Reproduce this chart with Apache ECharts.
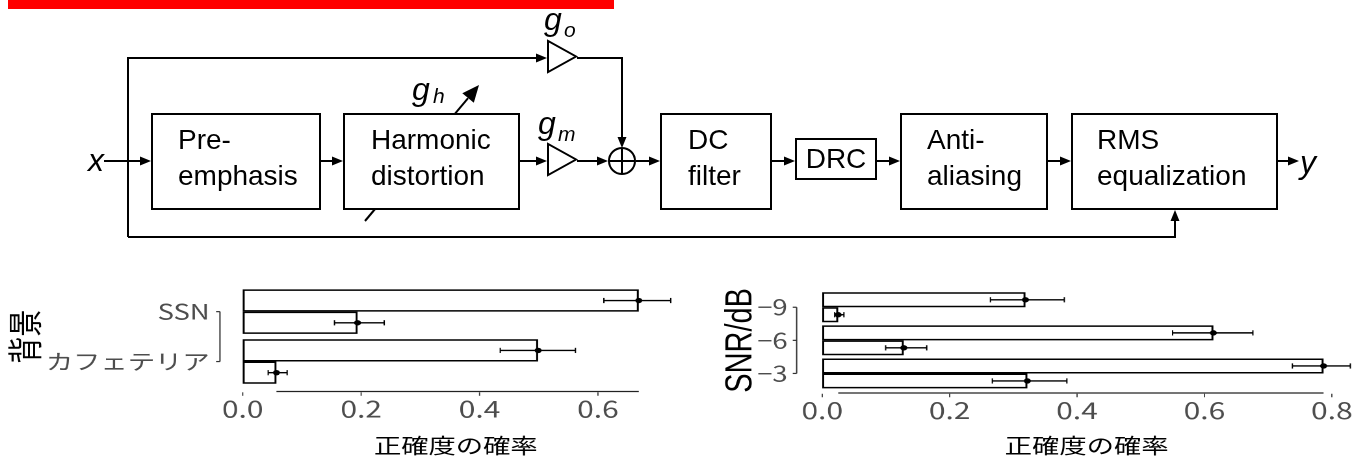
<!DOCTYPE html>
<html>
<head>
<meta charset="utf-8">
<script src="https://cdn.jsdelivr.net/npm/echarts@6/dist/echarts.min.js"></script>
<style>
html, body { margin: 0; padding: 0; background: #fff; }
#diagram { position: absolute; left: 0; top: 0; width: 1357px; height: 250px; }
/* the two lower panels are drawn narrow and stretched sideways, like the source figure */
#plots { position: absolute; left: 0; top: 0; width: 1044px; height: 457px; transform: scaleX(1.3); transform-origin: 0 0; }
</style>
</head>
<body>
<div id="diagram"></div>
<div id="plots"></div>
<script>
// ---- data: background panel ----
var bgCats = ['SSN', 'カフェテリア'];
var bgUpper = [0.669, 0.499];
var bgUpperLo = [0.610, 0.435];
var bgUpperHi = [0.723, 0.562];
var bgLower = [0.194, 0.057];
var bgLowerLo = [0.155, 0.043];
var bgLowerHi = [0.239, 0.075];
var bgTicks = [0, 0.2, 0.4, 0.6];

// ---- data: SNR panel ----
var snrCats = ['−9', '−6', '−3'];
var snrUpper = [0.319, 0.614, 0.787];
var snrUpperLo = [0.264, 0.550, 0.738];
var snrUpperHi = [0.380, 0.676, 0.829];
var snrLower = [0.025, 0.128, 0.322];
var snrLowerLo = [0.0195, 0.0995, 0.267];
var snrLowerHi = [0.034, 0.164, 0.384];
var snrTicks = [0, 0.2, 0.4, 0.6, 0.8];

var xTitle = '正確度の確率';

// ================= block diagram =================
var K = '#000';
var els = [];
function seg(pts) {
    els.push({ type: 'polyline', shape: { points: pts }, style: { stroke: K, lineWidth: 2, fill: null } });
}
function head(a, b, len, hw) {
    var dx = b[0] - a[0], dy = b[1] - a[1], d = Math.hypot(dx, dy);
    var ux = dx / d, uy = dy / d;
    var bx = b[0] - ux * len, by = b[1] - uy * len;
    els.push({ type: 'polygon', shape: { points: [[b[0], b[1]], [bx - uy * hw, by + ux * hw], [bx + uy * hw, by - ux * hw]] }, style: { fill: K } });
    return [bx, by];
}
function arrow(pts, len, hw) {
    var n = pts.length;
    var base = head(pts[n - 2], pts[n - 1], len || 11, hw || 4.5);
    seg(pts.slice(0, n - 1).concat([base]));
}
function box(x, y, w, h) {
    els.push({ type: 'rect', shape: { x: x, y: y, width: w, height: h }, style: { fill: '#fff', stroke: K, lineWidth: 2 } });
}
function txt(s, x, y, extra) {
    var st = { text: s, x: x, y: y, fill: K, fontSize: 28, fontFamily: 'Liberation Sans', align: 'left', verticalAlign: 'middle' };
    for (var k in extra) st[k] = extra[k];
    els.push({ type: 'text', style: st });
}
function amp(x, yc) {
    els.push({ type: 'polygon', shape: { points: [[x, yc - 15.5], [x, yc + 15.5], [x + 28, yc]] }, style: { fill: '#fff', stroke: K, lineWidth: 2 } });
}
var it = { fontStyle: 'italic', fontSize: 32 };
var sub = { fontStyle: 'italic', fontSize: 21 };

// red bar
els.push({ type: 'rect', shape: { x: 8, y: 0, width: 606, height: 9 }, style: { fill: '#ff0000' } });

// bypass paths
arrow([[128, 237], [128, 58], [547, 58]]);
arrow([[128, 237], [1175, 237], [1175, 210]]);
arrow([[577, 58], [622, 58], [622, 148]]);

// g_h control arrow (drawn under the box)
arrow([[365, 221], [479, 85]], 17, 7.5);

// main chain
arrow([[104, 161], [151, 161]]);
box(152, 114, 168, 95);
txt('Pre-', 178, 141); txt('emphasis', 178, 177);
arrow([[320, 161], [343, 161]]);
box(344, 114, 175, 95);
txt('Harmonic', 371, 141); txt('distortion', 371, 177);
arrow([[520, 161], [547, 161]]);
amp(548, 56.5);
amp(548, 159.5);
arrow([[577, 161], [608, 161]]);
els.push({ type: 'circle', shape: { cx: 622, cy: 161, r: 13 }, style: { fill: '#fff', stroke: K, lineWidth: 2 } });
seg([[609, 161], [635, 161]]);
seg([[622, 148], [622, 174]]);
arrow([[636, 161], [660, 161]]);
box(661, 114, 110, 95);
txt('DC', 688, 141); txt('filter', 688, 177);
arrow([[772, 161], [795, 161]]);
box(796, 139, 80, 40);
txt('DRC', 836, 160, { align: 'center' });
arrow([[877, 161], [900, 161]]);
box(901, 114, 146, 95);
txt('Anti-', 927, 141); txt('aliasing', 927, 177);
arrow([[1048, 161], [1071, 161]]);
box(1072, 114, 205, 95);
txt('RMS', 1097, 141); txt('equalization', 1097, 177);
arrow([[1277, 161], [1299, 161]]);

// math labels
txt('x', 104, 162, { fontStyle: 'italic', fontSize: 32, align: 'right' });
txt('y', 1300, 164, it);
txt('g', 544, 21, it); txt('o', 564, 31, sub);
txt('g', 412, 91, it); txt('h', 433, 97.5, sub);
txt('g', 538, 125, it); txt('m', 558, 135, sub);

var diagram = echarts.init(document.getElementById('diagram'));
diagram.setOption({ animation: false, graphic: { elements: els } });

// ================= bar panels =================
var gapL = 0.108, gapR = 0.096;

function errorBars(gapFrac, slot) {
    return function (params, api) {
        var cat = api.value(1);
        var c = api.coord([0, cat]);
        var band = api.size([0, 1])[1];
        var barH = band * (1 - gapFrac) / 2;
        var y = c[1] + (slot === 0 ? -barH / 2 : barH / 2);
        var xv = api.coord([api.value(0), cat])[0];
        var xl = api.coord([api.value(2), cat])[0];
        var xh = api.coord([api.value(3), cat])[0];
        return {
            type: 'group',
            children: [
                { type: 'line', shape: { x1: xl, y1: y, x2: xh, y2: y }, style: { stroke: '#000', lineWidth: 1.4 } },
                { type: 'line', shape: { x1: xl, y1: y - 2.6, x2: xl, y2: y + 2.6 }, style: { stroke: '#000', lineWidth: 1 } },
                { type: 'line', shape: { x1: xh, y1: y - 2.6, x2: xh, y2: y + 2.6 }, style: { stroke: '#000', lineWidth: 1 } },
                { type: 'circle', shape: { cx: xv, cy: y, r: 2.7 }, style: { fill: '#000' } }
            ]
        };
    };
}

// range-frame x line (data min..max), its ticks, and the category bracket with ticks
function frame(xOff, yOff, nCats, ticks) {
    return function (params, api) {
        var cs = params.coordSys;
        var xa = api.coord([api.value(0), 0])[0];
        var xb = api.coord([api.value(2), 0])[0];
        var yl = cs.y + cs.height + xOff;
        var yt = api.coord([0, 0])[1];
        var yb = api.coord([0, nCats - 1])[1];
        var xr = cs.x - yOff;
        var kids = [
            { type: 'line', shape: { x1: xa, y1: yl, x2: xb, y2: yl }, style: { stroke: '#222', lineWidth: 1.3 } },
            { type: 'line', shape: { x1: xr, y1: yt, x2: xr, y2: yb }, style: { stroke: '#333', lineWidth: 1 } }
        ];
        ticks.forEach(function (t) {
            var x = api.coord([t, 0])[0];
            kids.push({ type: 'line', shape: { x1: x, y1: yl + 0.8, x2: x, y2: yl + 4.3 }, style: { stroke: '#333', lineWidth: 0.9 } });
        });
        for (var i = 0; i < nCats; i++) {
            var y = api.coord([0, i])[1];
            kids.push({ type: 'line', shape: { x1: xr - 3, y1: y, x2: xr, y2: y }, style: { stroke: '#333', lineWidth: 1.2 } });
        }
        return { type: 'group', children: kids };
    };
}

function xAxisCfg(idx, max, ticks, offset, nameGap) {
    return {
        gridIndex: idx, type: 'value', min: 0, max: max, offset: offset,
        axisLine: { show: false },
        axisTick: { show: false },
        axisLabel: { customValues: ticks, formatter: function (v) { return v.toFixed(1); }, margin: 6, fontSize: 23, color: '#4d4d4d' },
        splitLine: { show: false },
        name: xTitle, nameLocation: 'middle', nameGap: nameGap, nameMoveOverlap: false,
        nameTextStyle: { fontSize: 21, color: '#000' }
    };
}

function yAxisCfg(idx, cats, offset, margin, name, nameGap, nameStyle) {
    return {
        gridIndex: idx, type: 'category', data: cats, inverse: true, offset: offset,
        axisLine: { show: false },
        axisTick: { show: false },
        axisLabel: { margin: margin, fontSize: 21, color: '#4d4d4d' },
        splitLine: { show: false },
        name: name, nameLocation: 'middle', nameGap: nameGap, nameMoveOverlap: false,
        nameTextStyle: nameStyle
    };
}

function barSeries(ax, data, gap) {
    return {
        type: 'bar', xAxisIndex: ax, yAxisIndex: ax, data: data,
        barGap: '0%', barCategoryGap: (gap * 100) + '%',
        itemStyle: { color: '#fff', borderColor: '#000', borderWidth: 1.5 }
    };
}

function errSeries(ax, vals, lo, hi, gap, slot) {
    return {
        type: 'custom', xAxisIndex: ax, yAxisIndex: ax, z: 5,
        renderItem: errorBars(gap, slot),
        encode: { x: [0, 2, 3], y: 1 },
        data: vals.map(function (v, i) { return [v, i, lo[i], hi[i]]; })
    };
}

function frameSeries(ax, all, xOff, yOff, nCats, ticks) {
    return {
        type: 'custom', xAxisIndex: ax, yAxisIndex: ax, z: 1,
        renderItem: frame(xOff, yOff, nCats, ticks),
        encode: { x: [0, 2], y: 1 },
        data: [[Math.min.apply(null, all), 0, Math.max.apply(null, all)]]
    };
}

var plots = echarts.init(document.getElementById('plots'), null, { devicePixelRatio: 2 });
plots.setOption({
    animation: false,
    textStyle: { fontFamily: 'Noto Sans CJK JP' },
    grid: [
        { left: 186.7, top: 286.7, width: 327.9, height: 100 },
        { left: 632.5, top: 290.7, width: 406.7, height: 99.6 }
    ],
    xAxis: [
        xAxisCfg(0, 0.72, bgTicks, 5, 43.5),
        xAxisCfg(1, 0.83, snrTicks, 3, 42)
    ],
    yAxis: [
        yAxisCfg(0, bgCats, 17.5, 8, '背景', 136.5, { fontSize: 27, color: '#000', fontFamily: 'Noto Sans CJK JP' }),
        yAxisCfg(1, snrCats, 19.7, 7, 'SNR/dB', 28.4, { fontSize: 29, color: '#000', fontFamily: 'Liberation Sans' })
    ],
    series: [
        barSeries(0, bgUpper, gapL),
        barSeries(0, bgLower, gapL),
        errSeries(0, bgUpper, bgUpperLo, bgUpperHi, gapL, 0),
        errSeries(0, bgLower, bgLowerLo, bgLowerHi, gapL, 1),
        frameSeries(0, bgUpper.concat(bgLower), 5, 17.5, bgCats.length, bgTicks),
        barSeries(1, snrUpper, gapR),
        barSeries(1, snrLower, gapR),
        errSeries(1, snrUpper, snrUpperLo, snrUpperHi, gapR, 0),
        errSeries(1, snrLower, snrLowerLo, snrLowerHi, gapR, 1),
        frameSeries(1, snrUpper.concat(snrLower), 3, 19.7, snrCats.length, snrTicks)
    ]
});
</script>
</body>
</html>
